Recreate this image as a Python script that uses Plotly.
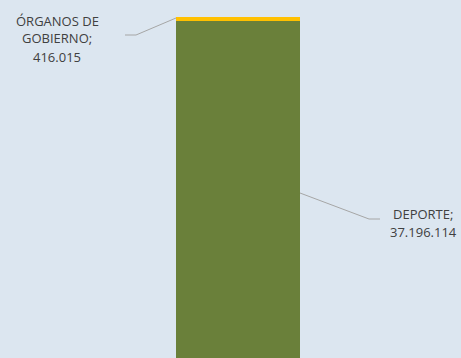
import plotly.graph_objects as go

categories = ["DEPORTE", "ÓRGANOS DE GOBIERNO"]
values = [37196114, 416015]
colors = ["#6a803a", "#ffc000"]

W, H = 461, 358

def fmt(v):
    return f"{v:,}".replace(",", ".")

total = sum(values)
fig = go.Figure()
for c, v, col in zip(categories, values, colors):
    fig.add_trace(go.Bar(x=[0], y=[v], name=c, marker=dict(color=col, line=dict(width=0)),
                         width=1, hoverinfo="skip"))

bar_l, bar_r = 176, 300
bw = bar_r - bar_l
xr = [-0.5 - bar_l / bw, -0.5 + (W - bar_l) / bw]
top_px = 17
yr = [0, total * H / (H - top_px)]

def px(x):
    return x / W

def py(y):
    return 1 - y / H

line_style = dict(color="#a6a6a6", width=1)
shapes = [
    dict(type="path", xref="paper", yref="paper",
         path=f"M {px(176)} {py(18)} L {px(136)} {py(35)} L {px(125)} {py(35)}",
         line=line_style),
    dict(type="path", xref="paper", yref="paper",
         path=f"M {px(300)} {py(193)} L {px(369)} {py(219)} L {px(380)} {py(219)}",
         line=line_style),
]

font = dict(family="Open Sans, Liberation Sans, sans-serif", size=13, color="#404040")
label_lines = [
    (57, [20, 37, 56.5], ["ÓRGANOS DE", "GOBIERNO;", fmt(values[1])]),
    (423, [213, 231], [f"{categories[0]};", fmt(values[0])]),
]
annotations = []
for cx, ys, texts in label_lines:
    for yy, t in zip(ys, texts):
        annotations.append(dict(xref="paper", yref="paper", x=px(cx), y=py(yy + 1), text=t,
                                showarrow=False, xanchor="center", yanchor="middle", font=font))

fig.update_layout(
    barmode="stack", width=W, height=H, margin=dict(l=0, r=0, t=0, b=0),
    paper_bgcolor="#dce6f0", plot_bgcolor="#dce6f0", showlegend=False,
    xaxis=dict(range=xr, visible=False, fixedrange=True),
    yaxis=dict(range=yr, visible=False, fixedrange=True),
    shapes=shapes, annotations=annotations,
)
fig.write_html("out.html", config={"displayModeBar": False},
               post_script="document.body.style.margin='0';document.body.style.overflow='hidden';")
